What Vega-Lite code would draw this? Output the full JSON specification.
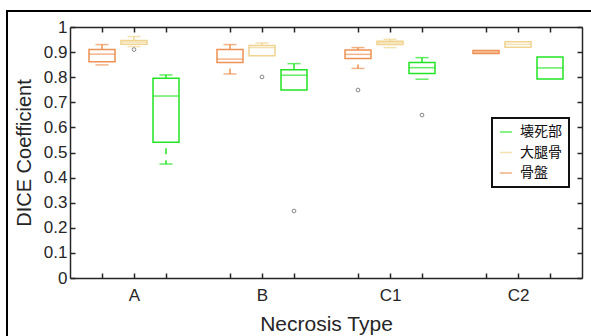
{
  "$schema": "https://vega.github.io/schema/vega-lite/v6.json",
  "width": 590,
  "height": 330,
  "autosize": {"type": "none"},
  "padding": {"left": 7, "top": 11, "right": 0, "bottom": 0},
  "background": "white",
  "datasets": {
    "boxes": [
      {"pos": 1, "group": "A", "part": "骨盤", "lower": 0.849, "q1": 0.862, "median": 0.892, "q3": 0.910, "upper": 0.930},
      {"pos": 2, "group": "A", "part": "大腿骨", "lower": 0.922, "q1": 0.931, "median": 0.940, "q3": 0.946, "upper": 0.962},
      {"pos": 3, "group": "A", "part": "壊死部", "lower": 0.454, "q1": 0.541, "median": 0.725, "q3": 0.796, "upper": 0.809},
      {"pos": 5, "group": "B", "part": "骨盤", "lower": 0.813, "q1": 0.859, "median": 0.872, "q3": 0.910, "upper": 0.930},
      {"pos": 6, "group": "B", "part": "大腿骨", "lower": 0.885, "q1": 0.885, "median": 0.918, "q3": 0.926, "upper": 0.936},
      {"pos": 7, "group": "B", "part": "壊死部", "lower": 0.749, "q1": 0.749, "median": 0.808, "q3": 0.830, "upper": 0.854},
      {"pos": 9, "group": "C1", "part": "骨盤", "lower": 0.835, "q1": 0.875, "median": 0.891, "q3": 0.908, "upper": 0.918},
      {"pos": 10, "group": "C1", "part": "大腿骨", "lower": 0.918, "q1": 0.930, "median": 0.937, "q3": 0.943, "upper": 0.951},
      {"pos": 11, "group": "C1", "part": "壊死部", "lower": 0.792, "q1": 0.815, "median": 0.838, "q3": 0.859, "upper": 0.878},
      {"pos": 13, "group": "C2", "part": "骨盤", "lower": 0.894, "q1": 0.894, "median": 0.900, "q3": 0.906, "upper": 0.906},
      {"pos": 14, "group": "C2", "part": "大腿骨", "lower": 0.919, "q1": 0.919, "median": 0.931, "q3": 0.941, "upper": 0.941},
      {"pos": 15, "group": "C2", "part": "壊死部", "lower": 0.793, "q1": 0.793, "median": 0.837, "q3": 0.880, "upper": 0.880}
    ],
    "outliers": [
      {"pos": 2, "value": 0.910},
      {"pos": 6, "value": 0.801},
      {"pos": 7, "value": 0.267},
      {"pos": 9, "value": 0.749},
      {"pos": 11, "value": 0.649}
    ]
  },
  "layer": [
    {
      "data": {"name": "boxes"},
      "mark": {"type": "rule", "strokeWidth": 1.5, "strokeDash": [6, 5]},
      "encoding": {
        "x": {"field": "pos", "type": "quantitative", "scale": {"domain": [0.2, 15.7], "range": [63, 575]}, "axis": null},
        "y": {"field": "q3", "type": "quantitative", "scale": {"domain": [0, 1], "range": [267, 16]}, "axis": null},
        "y2": {"field": "upper"},
        "color": {"field": "part", "type": "nominal"}
      }
    },
    {
      "data": {"name": "boxes"},
      "mark": {"type": "rule", "strokeWidth": 1.5, "strokeDash": [6, 6], "strokeDashOffset": 6},
      "encoding": {
        "x": {"field": "pos", "type": "quantitative", "axis": null},
        "y": {"field": "q1", "type": "quantitative", "axis": null},
        "y2": {"field": "lower"},
        "color": {"field": "part", "type": "nominal"}
      }
    },
    {
      "data": {"name": "boxes"},
      "transform": [{"filter": "datum.upper > datum.q3"}],
      "mark": {"type": "tick", "orient": "horizontal", "size": 13, "thickness": 1.5},
      "encoding": {
        "x": {"field": "pos", "type": "quantitative", "axis": null},
        "y": {"field": "upper", "type": "quantitative", "axis": null},
        "color": {"field": "part", "type": "nominal"}
      }
    },
    {
      "data": {"name": "boxes"},
      "transform": [{"filter": "datum.lower < datum.q1"}],
      "mark": {"type": "tick", "orient": "horizontal", "size": 13, "thickness": 1.5},
      "encoding": {
        "x": {"field": "pos", "type": "quantitative", "axis": null},
        "y": {"field": "lower", "type": "quantitative", "axis": null},
        "color": {"field": "part", "type": "nominal"}
      }
    },
    {
      "data": {"name": "boxes"},
      "mark": {"type": "bar", "filled": false, "size": 26, "strokeWidth": 1.5},
      "encoding": {
        "x": {
          "field": "pos", "type": "quantitative",
          "axis": {
            "orient": "bottom",
            "offset": -63,
            "title": "Necrosis Type",
            "titleFontSize": 21,
            "values": [1, 2, 3, 5, 6, 7, 9, 10, 11, 13, 14, 15],
            "labelExpr": "datum.value == 2 ? 'A' : datum.value == 6 ? 'B' : datum.value == 10 ? 'C1' : datum.value == 14 ? 'C2' : ''",
            "labelPadding": 14,
            "titlePadding": 10
          }
        },
        "y": {
          "field": "q1", "type": "quantitative",
          "axis": {
            "orient": "left",
            "offset": -63,
            "title": "DICE Coefficient",
            "values": [0, 0.1, 0.2, 0.3, 0.4, 0.5, 0.6, 0.7, 0.8, 0.9, 1],
            "format": ".1~f",
            "labelPadding": 8,
            "titlePadding": 9
          }
        },
        "y2": {"field": "q3"},
        "color": {
          "field": "part", "type": "nominal",
          "scale": {"domain": ["壊死部", "大腿骨", "骨盤"], "range": ["#22e422", "#f0d490", "#ee9152"]},
          "legend": {
            "title": null,
            "orient": "none",
            "legendX": 485,
            "legendY": 107,
            "symbolType": "stroke",
            "symbolSize": 150,
            "symbolStrokeWidth": 1.5,
            "labelFont": "Noto Sans CJK JP",
            "labelFontSize": 14,
            "labelColor": "#111111",
            "labelOffset": 7,
            "rowPadding": 6.5,
            "padding": 7,
            "strokeColor": "#111111",
            "fillColor": "white"
          }
        }
      }
    },
    {
      "data": {"name": "boxes"},
      "mark": {"type": "tick", "orient": "horizontal", "size": 26, "thickness": 1.5},
      "encoding": {
        "x": {
          "field": "pos", "type": "quantitative",
          "axis": {
            "orient": "top",
            "offset": -16,
            "title": null,
            "values": [1, 2, 3, 5, 6, 7, 9, 10, 11, 13, 14, 15],
            "labels": false
          }
        },
        "y": {
          "field": "median", "type": "quantitative",
          "axis": {
            "orient": "right",
            "offset": -15,
            "title": null,
            "values": [0, 0.1, 0.2, 0.3, 0.4, 0.5, 0.6, 0.7, 0.8, 0.9, 1],
            "labels": false
          }
        },
        "color": {"field": "part", "type": "nominal"}
      }
    },
    {
      "data": {"name": "outliers"},
      "mark": {"type": "point", "shape": "circle", "filled": false, "size": 14, "stroke": "#555555", "strokeWidth": 1},
      "encoding": {
        "x": {"field": "pos", "type": "quantitative", "axis": null},
        "y": {"field": "value", "type": "quantitative", "axis": null}
      }
    }
  ],
  "resolve": {"axis": {"x": "independent", "y": "independent"}},
  "config": {
    "view": {"stroke": "#000000", "strokeWidth": 2},
    "axis": {
      "grid": false,
      "domainColor": "#262626",
      "domainWidth": 1.5,
      "tickColor": "#262626",
      "tickWidth": 1.5,
      "tickSize": -5,
      "labelFont": "Liberation Sans",
      "labelFontSize": 17,
      "labelColor": "#262626",
      "titleFont": "Liberation Sans",
      "titleFontSize": 20,
      "titleFontWeight": "normal",
      "titleColor": "#262626",
      "labelFlush": false,
      "labelOverlap": false
    },
    "legend": {
      "strokeWidth": 2
    }
  }
}
